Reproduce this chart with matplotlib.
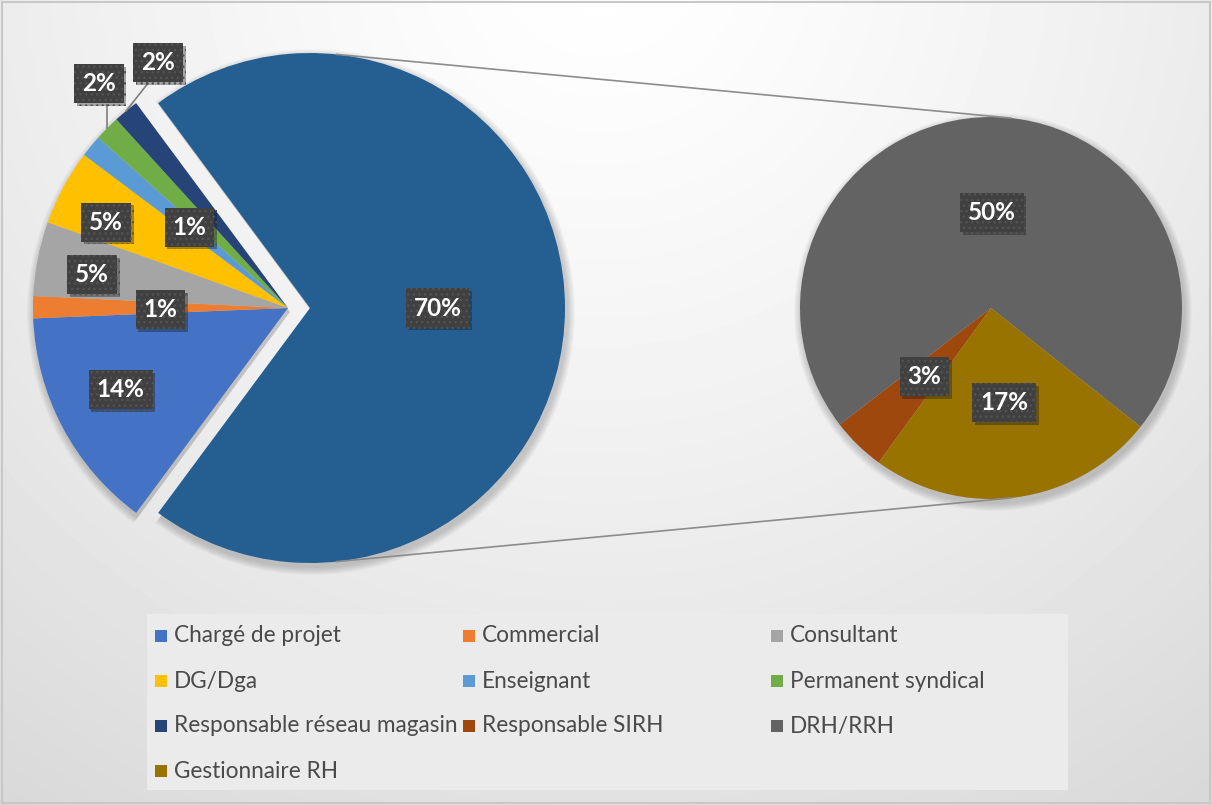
import numpy as np
import matplotlib
matplotlib.use('Agg')
import matplotlib.pyplot as plt
import matplotlib.patches as mpatches
import matplotlib.patheffects as pe

W, H = 1212, 805

# ===== 1. Data =====
left_labels = ['Chargé de projet', 'Commercial', 'Consultant', 'DG/Dga',
               'Enseignant', 'Permanent syndical', 'Responsable réseau magasin']
left_values = [14.2, 1.4, 4.7, 4.8, 1.4, 1.6, 1.6]
left_colors = ['#4472C4', '#ED7D31', '#A5A5A5', '#FFC000',
               '#5B9BD5', '#70AD47', '#264478']

# slices of the "other" part shown in the second pie
right_labels = ['Responsable SIRH', 'DRH/RRH', 'Gestionnaire RH']
right_values = [3.2, 50.0, 17.1]
right_colors = ['#9E480E', '#636363', '#997300']
other_color = '#255E91'

# ===== 2. Figure + background =====
fig = plt.figure(figsize=(W / 100, H / 100), dpi=100)
ax = fig.add_axes([0, 0, 1, 1])

yy, xx = np.mgrid[0:H, 0:W]
d = np.hypot(xx - 600, yy + 50) / 1050
bg = (255 - 39 * np.clip(d, 0, 1) ** 1.3) / 255
ax.imshow(bg, cmap='gray', vmin=0, vmax=1, extent=(0, W, 0, H),
          origin='upper', zorder=0, interpolation='bilinear')

other = sum(right_values)
total = sum(left_values) + other
rest_deg = sum(left_values) / total * 360
start = 180 + rest_deg / 2   # keeps the "other" slice centred on the right

c1, r1 = (288, H - 308), 255
c2, r2 = (991, H - 308), 191
vals1 = left_values + [other]
cols1 = left_colors + [other_color]
expl1 = [0] * len(left_values) + [22]

# soft shadows under both pies
for k in range(8):
    ax.pie(vals1, colors=['k'] * len(vals1), startangle=start, counterclock=False,
           center=(c1[0] + 2, c1[1] - 4), radius=r1 + 8 - k, explode=expl1,
           frame=True, wedgeprops=dict(linewidth=0, alpha=0.022))
    ax.pie(right_values, colors=['k'] * 3, startangle=234, counterclock=False,
           center=(c2[0] + 2, c2[1] - 4), radius=r2 + 8 - k,
           frame=True, wedgeprops=dict(linewidth=0, alpha=0.022))

# ===== 3. Pies =====
w1, _ = ax.pie(vals1, colors=cols1, startangle=start, counterclock=False,
               center=c1, radius=r1, explode=expl1, frame=True,
               wedgeprops=dict(linewidth=0))
w2, _ = ax.pie(right_values, colors=right_colors, startangle=234, counterclock=False,
               center=c2, radius=r2, frame=True, wedgeprops=dict(linewidth=0))

# connector lines between the "other" slice and the second pie
a = np.deg2rad(84)
ox, oy = w1[-1].center
for s in (1, -1):
    ax.plot([ox + r1 * np.cos(a), c2[0] + r2 * np.cos(a)],
            [oy + s * r1 * np.sin(a), c2[1] + s * r2 * np.sin(a)],
            color='#8c8c8c', lw=1.2, zorder=2)

# ===== 4. Data labels =====
lab_frac = [0.73, 0.50, 0.78, 0.79, 0.50, 1.15, 1.09, 0.50]
lab_dth = [-2, 1, 1.5, 3, 0, -5, -11.5, 0]


def put_label(w, val, frac, dth):
    mid = np.deg2rad((w.theta1 + w.theta2) / 2 + dth)
    x = w.center[0] + frac * w.r * np.cos(mid)
    y = w.center[1] + frac * w.r * np.sin(mid)
    t = ax.text(x, y, f'{val / total * 100:.0f}%', ha='center', va='center',
                color='white', fontsize=17.5, fontweight='bold', family='Lato',
                zorder=6,
                bbox=dict(boxstyle='square,pad=0.33', fc='#404040', ec='#535353',
                          lw=0, hatch='...'))
    t.get_bbox_patch().set_path_effects(
        [pe.SimplePatchShadow(offset=(2, -2), alpha=0.35), pe.Normal()])
    return x, y


for i, (w, v) in enumerate(zip(w1, vals1)):
    x, y = put_label(w, v, lab_frac[i], lab_dth[i])
    if lab_frac[i] > 1:
        # leader line from slice edge to the label
        mid = np.deg2rad((w.theta1 + w.theta2) / 2)
        ex = w.center[0] + w.r * np.cos(mid)
        ey = w.center[1] + w.r * np.sin(mid)
        lx = ex if i == 5 else x - 10
        ax.plot([ex, lx], [ey, y - 21], color='#7f7f7f', lw=1.2, zorder=3)

for w, v in zip(w2, right_values):
    put_label(w, v, 0.5, 0)

# ===== 5. Legend (Excel-style, row-major grid) =====
leg_labels = left_labels + right_labels
leg_colors = left_colors + right_colors
ax.add_patch(mpatches.Rectangle((147, H - 790), 921, 176, fc='#ebebeb', ec='none', zorder=1))
col_x = [155, 463, 771]
row_y = [636, 681, 726, 771]
for i, (lab, col) in enumerate(zip(leg_labels, leg_colors)):
    r, c = divmod(i, 3)
    x, y = col_x[c], H - row_y[r]
    ax.add_patch(mpatches.Rectangle((x, y - 6), 12, 12, fc=col, ec='none', zorder=2))
    ax.text(x + 19, y, lab, ha='left', va='center', fontsize=16.3,
            color='#4a4a4a', family='Lato', zorder=2)

# outer border
ax.add_patch(mpatches.Rectangle((2, 2), W - 4, H - 4, fc='none', ec='#c8c8c8', lw=1.5, zorder=7))

ax.set_xlim(0, W)
ax.set_ylim(0, H)
ax.set_aspect('equal')
ax.axis('off')

fig.savefig('out.png', dpi=100)
